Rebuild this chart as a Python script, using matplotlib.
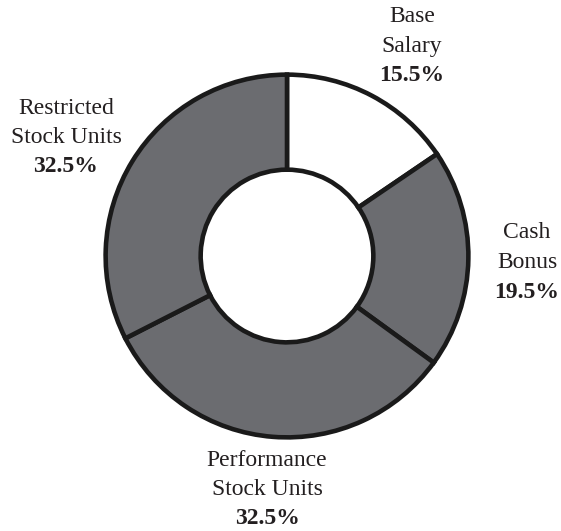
import matplotlib.pyplot as plt

# data
labels = ['Base\nSalary', 'Cash\nBonus', 'Performance\nStock Units', 'Restricted\nStock Units']
shares = [15.5, 19.5, 32.5, 32.5]
colors = ['#ffffff', '#6b6c70', '#6b6c70', '#6b6c70']

W, H = 561, 531
plt.rcParams['font.family'] = ['Liberation Serif', 'DejaVu Serif']

fig = plt.figure(figsize=(W / 100, H / 100), dpi=100)
# ring centre at (287, 256) px, outer radius ~185 px
cx, cy, r = 287, 256, 185
ax = fig.add_axes([(cx - r) / W, (H - cy - r) / H, 2 * r / W, 2 * r / H])
ax.pie(shares, colors=colors, startangle=90, counterclock=False, radius=1,
       wedgeprops=dict(width=0.524, edgecolor='#1a1a1a', linewidth=3.3))
ax.set_xlim(-1.02, 1.02)
ax.set_ylim(-1.02, 1.02)
ax.set_aspect('equal')
ax.axis('off')

# label anchor points (px from top-left): centre x, y of first line
label_pos = [(412, 17), (527, 233), (267, 460), (66, 108)]
line_h = 29.5
for lab, val, (x, y) in zip(labels, shares, label_pos):
    lines = lab.split('\n')
    for i, line in enumerate(lines):
        fig.text(x / W, 1 - (y + i * line_h) / H, line, ha='center', va='center',
                 fontsize=17, color='#231f20')
    fig.text(x / W, 1 - (y + len(lines) * line_h) / H, f'{val}%', ha='center',
             va='center', fontsize=17, fontweight='bold', color='#231f20')

fig.savefig('out.png', dpi=100, facecolor='white')
